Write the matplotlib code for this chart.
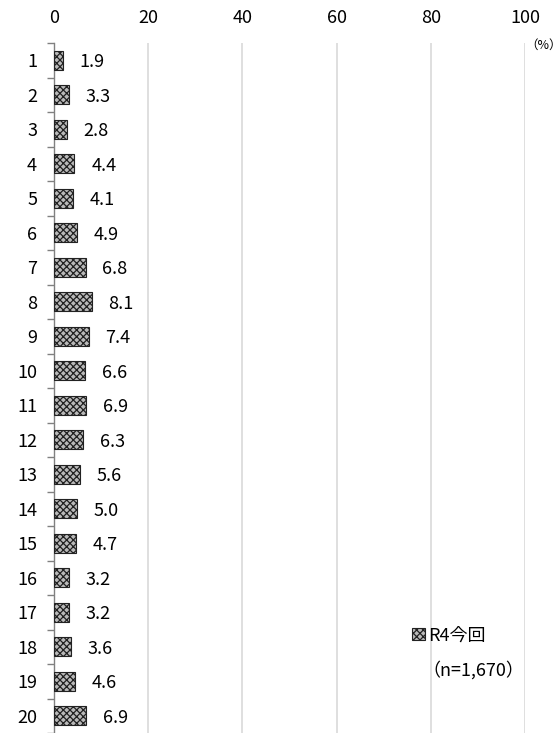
import numpy as np
import matplotlib.pyplot as plt
from matplotlib.patches import Patch

plt.rcParams['font.family'] = ['Noto Sans CJK JP', 'DejaVu Sans']
plt.rcParams['hatch.color'] = '#f4f4f4'
plt.rcParams['hatch.linewidth'] = 0.9

categories = [str(i) for i in range(1, 21)]
values = [1.9, 3.3, 2.8, 4.4, 4.1, 4.9, 6.8, 8.1, 7.4, 6.6,
          6.9, 6.3, 5.6, 5.0, 4.7, 3.2, 3.2, 3.6, 4.6, 6.9]
xticks = [0, 20, 40, 60, 80, 100]

fig = plt.figure(figsize=(5.6, 7.33), dpi=100)
ax = fig.add_axes([0.096, 0.0, 0.8415, 0.941])

bar_face = '#bababa'
y = np.arange(len(categories))
ax.barh(y, values, height=0.55, color=bar_face, edgecolor='#222222',
        linewidth=0.8, hatch='xxxxx', zorder=3)

for yi, v in zip(y, values):
    ax.annotate(f'{v:.1f}', (v, yi), xytext=(12, 0), textcoords='offset points',
                va='center_baseline', ha='left', fontsize=13)

ax.set_xlim(0, 100)
ax.set_ylim(len(categories) - 0.5, -0.5)
ax.set_xticks(xticks)
ax.xaxis.tick_top()
ax.tick_params(axis='x', length=0, labelsize=13, pad=12)
ax.set_yticks(y)
ax.set_yticklabels(categories, va='center_baseline')
ax.tick_params(axis='y', which='major', length=0, labelsize=13, pad=12)
ax.set_yticks(np.arange(-0.5, len(categories), 1), minor=True)
ax.tick_params(axis='y', which='minor', length=5, color='#808080', width=1)

ax.grid(axis='x', color='#d9d9d9', linewidth=1.2, zorder=0)
for s in ['top', 'right', 'bottom']:
    ax.spines[s].set_visible(False)
ax.spines['left'].set_color('#808080')
ax.spines['left'].set_linewidth(1)

fig.text(0.97, 0.938, '（%）', fontsize=9, ha='center', va='center')

leg = ax.legend(handles=[Patch(facecolor=bar_face, edgecolor='#222222',
                               hatch='xxxxx', linewidth=0.8)],
                labels=['R4今回'], loc='lower left', bbox_to_anchor=(0.745, 0.118),
                frameon=False, fontsize=13, handlelength=0.7, handleheight=0.7,
                handletextpad=0.2, borderaxespad=0)
fig.text(0.755, 0.086, '（n=1,670）', fontsize=13, ha='left', va='center')

fig.savefig('out.png', dpi=100)
